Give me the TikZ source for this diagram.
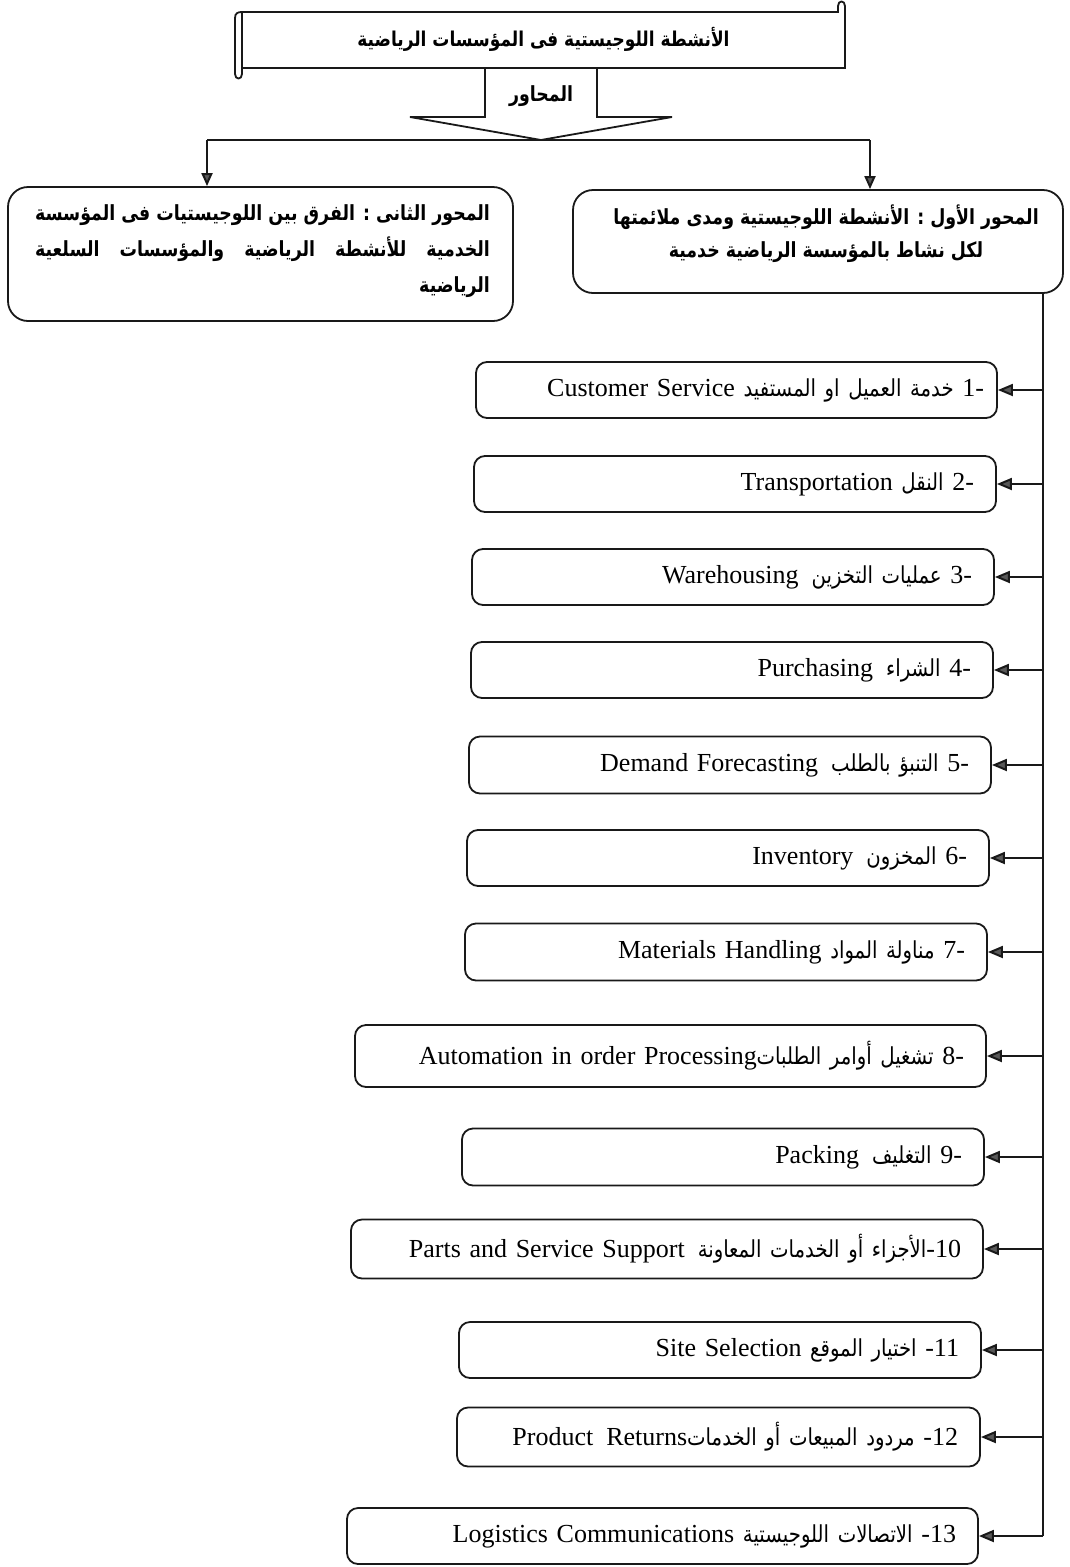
\documentclass[tikz,border=0pt]{standalone}
\usepackage{fontspec}
\usepackage{graphicx}
\setmainfont{Liberation Serif}
\newfontfamily\arfont[Script=Arabic,Scale=0.79]{DejaVu Sans}
\newfontfamily\arfontI[Script=Arabic,Scale=0.9,FakeStretch=0.84]{DejaVu Sans}
\TeXXeTstate=1
\usetikzlibrary{arrows.meta}
\newcommand\tallR[1]{\scalebox{1}[1.2]{\beginR #1\endR}}
\newcommand\arseg[1]{{\arfontI #1}}
\tikzset{
  ln/.style={line width=2pt, draw=black!90},
  arr/.style={ln, -{Triangle[length=15pt,width=12pt,fill=black!65]}},
  darr/.style={ln, -{Triangle[length=13pt,width=11pt,fill=black!65]}},
  itembox/.style={draw=black!90, line width=1.8pt, rounded corners=11pt, inner xsep=22pt, inner ysep=0pt, align=right, font=\fontsize{26}{30}\selectfont},
  axisbox/.style={draw=black!90, line width=1.8pt, rounded corners=20pt},
  head/.style={font=\fontsize{22}{36}\selectfont\arfont\bfseries, inner sep=0pt},
}
\begin{document}
\begin{tikzpicture}[x=1pt,y=-1pt]
\useasboundingbox (0,0) rectangle (1069,1567);
% title scroll
\node[head, font=\fontsize{21.5}{36}\selectfont\arfont\bfseries, minimum width=603pt, minimum height=56pt] (title) at (543.5,39) {\tallR{الأنشطة اللوجيستية فى المؤسسات الرياضية}};
\draw[ln, line width=1.8pt] (242,12) -- (838,12) -- (838,6) .. controls (838,0) and (845,0) .. (845,6) -- (845,68) -- (242,68) -- (242,74) .. controls (242,80) and (235,80) .. (235,74) -- (235,18) .. controls (235,13) and (238,12) .. (242,12) -- cycle;
\draw[ln, line width=1.8pt] (242,12) -- (242,68);
% block arrow
\draw[ln, line width=1.8pt, line join=miter] (485,68) -- (485,117) -- (410,117) -- (541,140) -- (672,117) -- (597,117) -- (597,68);
\node[head] (axes) at (541,96) {\tallR{المحاور}};
% bar
\coordinate (bl) at (207,140);
\coordinate (br) at (870,140);
\draw[ln] (bl) -- (br);
% axis boxes
\node[axisbox, minimum width=505pt, minimum height=134pt] (ax2) at (260.5,254) {};
\node[axisbox, minimum width=490pt, minimum height=103pt] (ax1) at (818,241.5) {};
\draw[darr] (bl) -- (bl |- ax2.north);
\draw[darr] (br) -- (br |- ax1.north);
\node[head, align=center, font=\fontsize{22}{33}\selectfont\arfont\bfseries] (ax1t) at (826,233.5) {\tallR{المحور الأول : الأنشطة اللوجيستية ومدى ملائمتها}\\ \tallR{لكل نشاط بالمؤسسة الرياضية خدمية}};
\node[head, align=right] (ax2t) at (262.5,251) {\makebox[455pt][s]{\tallR{المحور الثانى : الفرق بين اللوجيستيات فى المؤسسة}}\\ \scalebox{1}[1.2]{\makebox[455pt][s]{\beginR الخدمية للأنشطة الرياضية والمؤسسات السلعية\endR}}\\ \makebox[455pt][r]{\tallR{الرياضية}}};
% items
\node[itembox, inner xsep=13pt, minimum width=521pt, text width=495pt, minimum height=56pt] (i1) at (736.5,390) {\beginR 1- \arseg{خدمة العميل او المستفيد} \beginL Customer Service\endL\endR};
\node[itembox, minimum width=522pt, text width=478pt, minimum height=56pt] (i2) at (735,484) {\beginR 2- \arseg{النقل} \beginL Transportation\endL\endR};
\node[itembox, minimum width=522pt, text width=478pt, minimum height=56pt] (i3) at (733,577) {\beginR 3- \arseg{عمليات التخزين}\hspace{0.5em}\beginL Warehousing\endL\endR};
\node[itembox, minimum width=522pt, text width=478pt, minimum height=56pt] (i4) at (732,670) {\beginR 4- \arseg{الشراء}\hspace{0.5em}\beginL Purchasing\endL\endR};
\node[itembox, minimum width=522pt, text width=478pt, minimum height=57pt] (i5) at (730,765) {\beginR 5- \arseg{التنبؤ بالطلب}\hspace{0.5em}\beginL Demand Forecasting\endL\endR};
\node[itembox, minimum width=522pt, text width=478pt, minimum height=56pt] (i6) at (728,858) {\beginR 6- \arseg{المخزون}\hspace{0.5em}\beginL Inventory\endL\endR};
\node[itembox, minimum width=522pt, text width=478pt, minimum height=57pt] (i7) at (726,952) {\beginR 7- \arseg{مناولة المواد} \beginL Materials Handling\endL\endR};
\node[itembox, minimum width=631pt, text width=587pt, minimum height=62pt] (i8) at (670.5,1056) {\beginR 8- \arseg{تشغيل أوامر الطلبات}\beginL Automation in order Processing\endL\endR};
\node[itembox, minimum width=522pt, text width=478pt, minimum height=57pt] (i9) at (723,1157) {\beginR 9- \arseg{التغليف}\hspace{0.5em}\beginL Packing\endL\endR};
\node[itembox, minimum width=632pt, text width=588pt, minimum height=59pt] (i10) at (667,1249) {\beginR \beginL 10\endL-\arseg{الأجزاء أو الخدمات المعاونة}\hspace{0.5em}\beginL Parts and Service Support\endL\endR};
\node[itembox, minimum width=522pt, text width=478pt, minimum height=56pt] (i11) at (720,1350) {\beginR \beginL 11\endL- \arseg{اختيار الموقع} \beginL Site Selection\endL\endR};
\node[itembox, minimum width=523pt, text width=479pt, minimum height=59pt] (i12) at (718.5,1437) {\beginR \beginL 12\endL- \arseg{مردود المبيعات أو الخدمات}\beginL Product\hspace{0.5em}Returns\endL\endR};
\node[itembox, minimum width=631pt, text width=587pt, minimum height=56pt] (i13) at (662.5,1536) {\beginR \beginL 13\endL- \arseg{الاتصالات اللوجيستية} \beginL Logistics Communications\endL\endR};
% trunk and branches
\coordinate (tk) at (1043,293);
\draw[ln] (tk) -- (tk |- i13.east);
\foreach \i in {1,...,13} \draw[arr] (tk |- i\i.east) -- (i\i.east);
\end{tikzpicture}
\end{document}
